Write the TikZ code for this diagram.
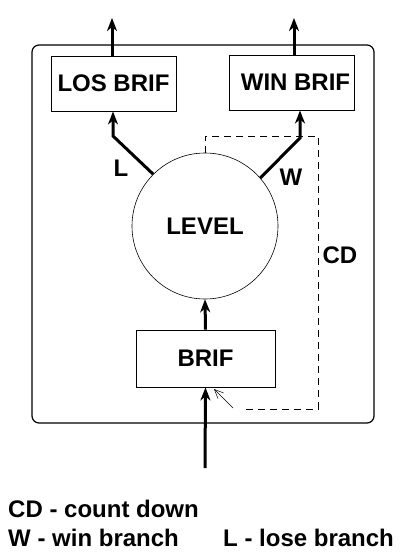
\documentclass[tikz,border=0pt]{standalone}
\usepackage{fontspec}
\setmainfont{Liberation Sans}
\usetikzlibrary{arrows.meta,calc}
\begin{document}
\begin{tikzpicture}[x=1pt,y=-1pt,
  every node/.style={font=\fontsize{24}{28}\selectfont\bfseries},
  box/.style={draw,line width=0.9pt,rectangle,inner sep=0pt},
  tarrow/.style={line width=3pt,-{Stealth[length=13pt,width=10pt,inset=4pt]}},
  cdline/.style={line width=0.8pt,dash pattern=on 7pt off 5pt},
  lbl/.style={inner sep=0pt},
  foot/.style={inner sep=0pt,anchor=base west}]
\useasboundingbox (0,0) rectangle (402,558);
% outer frame
\draw[line width=1.2pt,rounded corners=7pt] (32,45) rectangle (374,423);
% nodes
\node[box,minimum width=125pt,minimum height=55pt] (los) at (113.5,83.5) {LOS BRIF};
\node[box,minimum width=125pt,minimum height=55pt] (win) at (291.5,82.5) {\hspace{8pt}WIN BRIF};
\node[draw,circle,minimum size=146pt,inner sep=0pt,line width=0.6pt] (lev) at (205,226) {LEVEL};
\node[box,minimum width=139pt,minimum height=57pt] (brif) at (205.5,358.5) {BRIF};
% coordinates
\coordinate (lt) at (112,18);
\coordinate (wt) at (294,18);
\coordinate (lc) at (113,136);
\coordinate (wc) at (300,138);
\coordinate (in) at (205,468);
\coordinate (d1) at (205,136);
\coordinate (d2) at (318,136);
\coordinate (d3) at (318,409);
\coordinate (d4) at (242,409);
\coordinate (d5) at (233,408);
\coordinate (d6) at (214,389);
% connectors
\draw[tarrow] (lt |- los.north) -- (lt);
\draw[tarrow] (wt |- win.north) -- (wt);
\draw[tarrow] (lev.135) -- (lc) -- (lc |- los.south);
\draw[tarrow] (lev.41) -- (wc) -- (wc |- win.south);
\draw[tarrow] (brif.north) -- (lev.south);
\draw[tarrow] (in) -- (brif.south);
\draw[cdline] (lev.north) -- (d1) -- (d2) -- (d3) -- (d4);
\draw[line width=0.5pt,-{Straight Barb[length=9pt,width=8pt]}] (d5) -- (d6);
% labels
\node[lbl] (lL) at (121,168) {L};
\node[lbl] (lW) at (291,177) {W};
\node[lbl] (lCD) at (340,255) {CD};
% legend
\node[foot] (f1) at (8,517) {CD - count down};
\node[foot] (f2) at (8,546) {W - win branch};
\node[foot] (f3) at (223,546) {L - lose branch};
\end{tikzpicture}
\end{document}
